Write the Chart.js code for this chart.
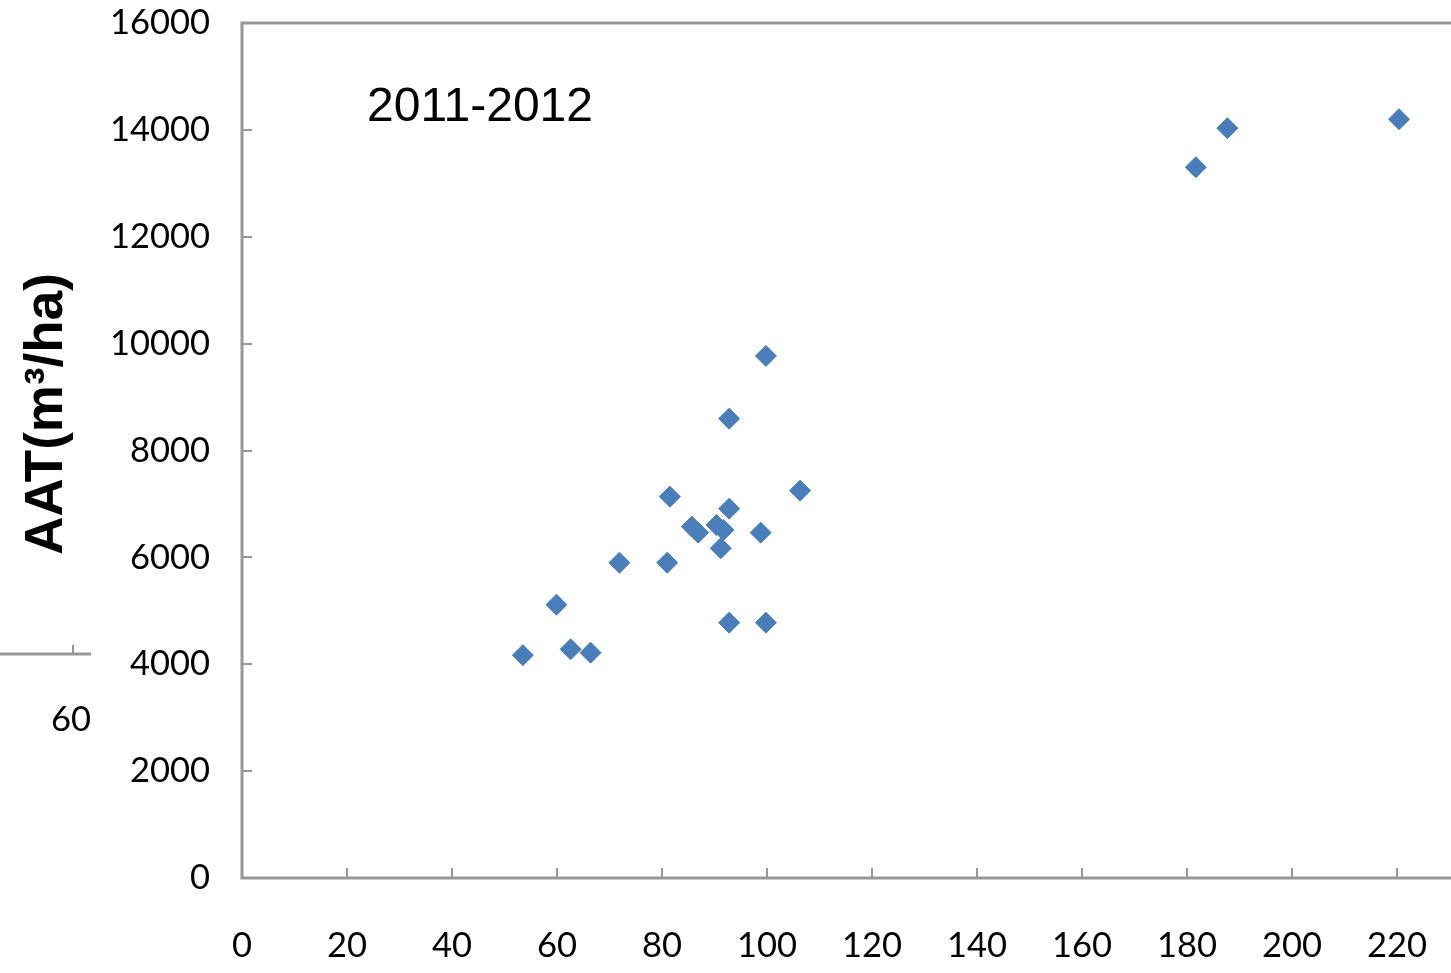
<!DOCTYPE html>
<html>
<head>
<meta charset="utf-8">
<script src="https://cdn.jsdelivr.net/npm/chart.js@4.4.1/dist/chart.umd.min.js"></script>
<style>
html,body{margin:0;padding:0;background:#fff;overflow:hidden;}
#wrap{position:relative;width:1451px;height:973px;}
</style>
</head>
<body>
<div id="wrap"><canvas id="c" width="1451" height="973"></canvas></div>
<script>
// ---- data ----
const xValues = [53.5, 59.9, 62.6, 66.4, 71.9, 81.0, 81.5, 85.7, 86.9, 90.4, 91.7, 91.2, 92.8, 98.8, 106.3, 92.8, 99.8, 99.8, 92.8, 187.7, 181.7, 220.4];
const yValues = [4170, 5115, 4280, 4217, 5900, 5900, 7136, 6575, 6463, 6607, 6513, 6171, 6912, 6463, 7249, 4778, 4778, 9770, 8596, 14031, 13301, 14200];
const xTicks = [0, 20, 40, 60, 80, 100, 120, 140, 160, 180, 200, 220];
const yTicks = [0, 2000, 4000, 6000, 8000, 10000, 12000, 14000, 16000];
const periodLabel = '2011-2012';
const yTitle = 'AAT(m³/ha)';
const strayTickLabel = '60';

const points = xValues.map((x, i) => ({x: x, y: yValues[i]}));
const axisColor = '#979797';
const tickFont = {family: 'Lato', size: 34.5};

const framePlugin = {
  id: 'frame',
  afterDraw(chart) {
    const ctx = chart.ctx, a = chart.chartArea;
    const xs = chart.scales.x, ys = chart.scales.y;
    ctx.save();
    ctx.strokeStyle = axisColor;
    ctx.lineWidth = 3;
    ctx.beginPath();
    ctx.moveTo(a.right + 5, a.top); ctx.lineTo(a.left, a.top);
    ctx.lineTo(a.left, a.bottom); ctx.lineTo(a.right + 5, a.bottom);
    ctx.stroke();
    ctx.lineWidth = 2;
    ctx.beginPath();
    xTicks.forEach(v => { if (v === 0) return; const p = Math.round(xs.getPixelForValue(v)); ctx.moveTo(p, a.bottom); ctx.lineTo(p, a.bottom - 10); });
    yTicks.forEach(v => { if (v === 0 || v === 16000) return; const p = Math.round(ys.getPixelForValue(v)); ctx.moveTo(a.left, p); ctx.lineTo(a.left + 10, p); });
    ctx.stroke();
    // stray fragment of a neighbouring chart at the left edge
    ctx.lineWidth = 3;
    ctx.beginPath(); ctx.moveTo(0, 654); ctx.lineTo(91, 654); ctx.stroke();
    ctx.lineWidth = 2;
    ctx.beginPath(); ctx.moveTo(73, 654); ctx.lineTo(73, 645); ctx.stroke();
    ctx.fillStyle = '#000';
    ctx.font = '34.5px Lato';
    ctx.textAlign = 'center'; ctx.textBaseline = 'middle';
    ctx.fillText(strayTickLabel, 71, 720);
    // period label
    ctx.font = '48px "Liberation Sans", Arial, sans-serif';
    ctx.textAlign = 'left'; ctx.textBaseline = 'alphabetic';
    ctx.fillText(periodLabel, 367, 121);
    // y axis title
    ctx.translate(47, 414);
    ctx.rotate(-Math.PI / 2);
    ctx.font = 'bold 53px "Liberation Sans", Arial, sans-serif';
    ctx.textAlign = 'center'; ctx.textBaseline = 'middle';
    ctx.fillText(yTitle, 0, 0);
    ctx.restore();
  }
};

new Chart(document.getElementById('c'), {
  type: 'scatter',
  data: {
    datasets: [{
      data: points,
      pointStyle: 'rectRot',
      pointRadius: 10.5,
      pointHoverRadius: 10.5,
      backgroundColor: '#4a7ebb',
      borderColor: '#4a7ebb',
      borderWidth: 1
    }]
  },
  options: {
    responsive: false,
    animation: false,
    events: [],
    layout: {autoPadding: false, padding: {top: 23, left: 0, right: 0, bottom: 0}},
    plugins: {legend: {display: false}, tooltip: {enabled: false}, title: {display: false}},
    scales: {
      x: {
        type: 'linear', min: 0, max: 230.3,
        afterBuildTicks(s) { s.ticks = xTicks.map(v => ({value: v})); },
        afterFit(s) { s.height = 95; s.paddingLeft = 0; s.paddingRight = 0; },
        grid: {display: false, drawTicks: false},
        border: {display: false},
        ticks: {font: tickFont, color: '#000', padding: 47, maxRotation: 0, autoSkip: false,
          callback: v => String(v)}
      },
      y: {
        type: 'linear', min: 0, max: 16000,
        afterBuildTicks(s) { s.ticks = yTicks.map(v => ({value: v})); },
        afterFit(s) { s.width = 242; s.paddingTop = 0; s.paddingBottom = 0; },
        grid: {display: false, drawTicks: false},
        border: {display: false},
        ticks: {font: tickFont, color: '#000', padding: 32, autoSkip: false,
          callback: v => String(v)}
      }
    }
  },
  plugins: [framePlugin]
});
</script>
</body>
</html>
